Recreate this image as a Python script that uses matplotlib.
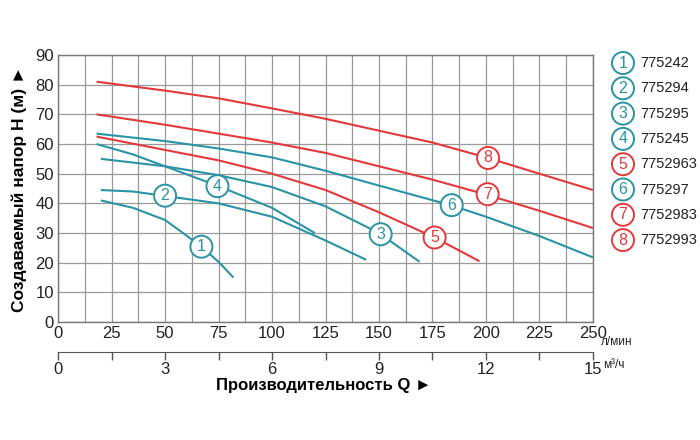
import matplotlib
matplotlib.use("Agg")
import matplotlib.pyplot as plt
from matplotlib.ticker import MultipleLocator
from matplotlib import font_manager

names = {f.name for f in font_manager.fontManager.ttflist}
NARROW = "Liberation Sans Narrow" if "Liberation Sans Narrow" in names else "Liberation Sans"
plt.rcParams["font.family"] = [NARROW, "DejaVu Sans"]

TEAL = "#2a93a6"
RED = "#e3393b"

# pump curves: flow (l/min) and head (m)
q1 = [20, 35, 50, 58.6, 67, 75, 82]
h1 = [41, 38.5, 34.4, 29.9, 25.4, 20.3, 15]
q2 = [20, 35, 50, 75, 100, 125, 144]
h2 = [44.5, 44, 42.5, 40, 35.5, 27.5, 21]
q3 = [20, 50, 75, 100, 125, 150, 169]
h3 = [55, 52.5, 49.5, 45.5, 39, 30, 20.3]
q4 = [18, 35, 50, 75, 100, 120]
h4 = [60, 56.5, 52.5, 45.8, 38.5, 30]
q5 = [18, 50, 75, 100, 125, 150, 176, 197]
h5 = [62.5, 58, 54.5, 50, 44.5, 37, 28.5, 20.5]
q6 = [18, 50, 75, 100, 125, 150, 184, 200, 225, 250]
h6 = [63.5, 61, 58.5, 55.5, 51, 46, 39.3, 35.5, 29, 21.8]
q7 = [18, 50, 75, 100, 125, 150, 175, 200, 225, 250]
h7 = [70, 66.5, 63.5, 60.5, 57, 52.5, 48, 43, 37.5, 31.7]
q8 = [18, 50, 75, 100, 125, 150, 175, 200, 225, 250]
h8 = [81, 78, 75.4, 72, 68.5, 64.5, 60.5, 55.5, 50, 44.5]

codes = ["775242", "775294", "775295", "775245", "7752963", "775297", "7752983", "7752993"]
colors = [TEAL, TEAL, TEAL, TEAL, RED, TEAL, RED, RED]
# where the numbered marker sits on each curve (flow, head)
label_q = [67, 50, 150.8, 74.5, 176, 184, 200.8, 201]
label_h = [25.4, 42.6, 29.6, 45.8, 28.5, 39.4, 43.1, 55.3]

flows = [q1, q2, q3, q4, q5, q6, q7, q8]
heads = [h1, h2, h3, h4, h5, h6, h7, h8]

fig = plt.figure(figsize=(7, 4.4), dpi=100)
ax = fig.add_axes([0.083, 0.268, 0.764, 0.607])

for q, h, c in zip(flows, heads, colors):
    ax.plot(q, h, color=c, lw=1.5, solid_capstyle="butt", solid_joinstyle="round", zorder=3)

circ = dict(boxstyle="circle,pad=0.22", fc="white", lw=1.4)
for i, (x, y, c) in enumerate(zip(label_q, label_h, colors)):
    ax.text(x, y, str(i + 1), color=c, fontsize=11.5, ha="center", va="center",
            bbox=dict(circ, ec=c), zorder=4)

ax.set_xlim(0, 250)
ax.set_ylim(0, 90)
ax.xaxis.set_major_locator(MultipleLocator(25))
ax.xaxis.set_minor_locator(MultipleLocator(12.5))
ax.yaxis.set_major_locator(MultipleLocator(10))
ax.grid(which="both", axis="x", color="#9a9a9a", lw=0.9)
ax.grid(which="major", axis="y", color="#9a9a9a", lw=0.9)
ax.tick_params(which="both", length=0, labelsize=12, colors="#222222", pad=3)
for s in ax.spines.values():
    s.set_color("#777777")
    s.set_linewidth(1.0)

ax.set_ylabel("Создаваемый напор H (м) ►", fontsize=12.5, fontweight="bold",
              labelpad=6, family=["Liberation Sans", "DejaVu Sans"])

# second flow scale in m3/h
ax2 = fig.add_axes([0.083, 0.2, 0.764, 0.0001])
ax2.set_xlim(0, 15)
ax2.set_yticks([])
for s in ["top", "left", "right"]:
    ax2.spines[s].set_visible(False)
ax2.spines["bottom"].set_color("#555555")
ax2.xaxis.set_major_locator(MultipleLocator(3))
ax2.xaxis.set_minor_locator(MultipleLocator(1.5))
ax2.tick_params(which="both", direction="out", length=6, width=1, color="#555555",
                labelsize=12, labelcolor="#222222", pad=1)

fig.text(0.858, 0.222, "л/мин", fontsize=8.5, color="#222222", va="center")
fig.text(0.862, 0.17, "м³/ч", fontsize=8.5, color="#222222", va="center")
fig.text(0.462, 0.125, "Производительность Q ►", fontsize=12, fontweight="bold",
         ha="center", va="center")

# legend column
for i, (code, c) in enumerate(zip(codes, colors)):
    y = (440 - 63 - i * 25.3) / 440
    fig.text(0.89, y, str(i + 1), color=c, fontsize=11.5, ha="center", va="center",
             bbox=dict(circ, ec=c))
    fig.text(0.914, y, code, color="#222222", fontsize=10.5, ha="left", va="center")

fig.savefig("out.png", dpi=100, facecolor="white")
